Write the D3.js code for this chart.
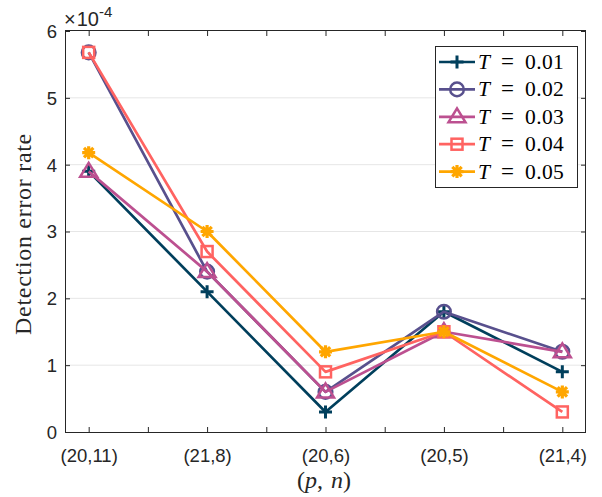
<!DOCTYPE html>
<html><head><meta charset="utf-8">
<script src="https://cdn.jsdelivr.net/npm/d3@7"></script>
<style>body{margin:0;background:#fff}svg{display:block}</style>
</head><body>
<svg id="c" width="602" height="497"></svg>
<script>
const categories = ["(20,11)", "(21,8)", "(20,6)", "(20,5)", "(21,4)"];
const seriesNames = ["0.01", "0.02", "0.03", "0.04", "0.05"];
const s001 = [3.9, 2.1, 0.3, 1.8, 0.9];
const s002 = [5.68, 2.4, 0.6, 1.8, 1.2];
const s003 = [3.9, 2.4, 0.6, 1.5, 1.2];
const s004 = [5.68, 2.7, 0.9, 1.5, 0.3];
const s005 = [4.18, 3.0, 1.2, 1.5, 0.6];
const yTicks = [0, 1, 2, 3, 4, 5, 6];
const colors = ["#003f5c", "#58508d", "#bc5090", "#ff6361", "#ffa600"];
const markers = ["plus", "circle", "triangle", "square", "asterisk"];
const seriesValues = [s001, s002, s003, s004, s005];

const svg = d3.select("#c");
const L = 65, R = 586, T = 31, B = 432;
const x = d3.scaleLinear().domain([-0.2, 4.2]).range([L, R]);
const y = d3.scaleLinear().domain([0, 6]).range([B, T]);

// grid
svg.append("g").selectAll("line").data(yTicks.slice(1, -1)).join("line")
  .attr("x1", L).attr("x2", R).attr("y1", d => y(d)).attr("y2", d => y(d))
  .attr("stroke", "#e6e6e6").attr("stroke-width", 1);

const tickFont = "'Liberation Sans', Arial, sans-serif";
const serif = "'Liberation Serif', 'Times New Roman', serif";
const xt = d3.range(0, 4.01, 0.5);
const xAxis = d3.axisBottom(x).tickValues(xt).tickSize(-5).tickPadding(17)
  .tickFormat(d => Number.isInteger(d) ? categories[d] : "");
const gx = svg.append("g").attr("transform", `translate(0,${B})`).call(xAxis);
const xTop = d3.axisTop(x).tickValues(xt).tickSize(-5).tickFormat("");
const gxt = svg.append("g").attr("transform", `translate(0,${T})`).call(xTop);
const yAxis = d3.axisLeft(y).tickValues(yTicks).tickSize(-5).tickPadding(8).tickFormat(d3.format("d"));
const gy = svg.append("g").attr("transform", `translate(${L},0)`).call(yAxis);
const yR = d3.axisRight(y).tickValues(yTicks).tickSize(-5).tickFormat("");
const gyr = svg.append("g").attr("transform", `translate(${R},0)`).call(yR);
[gx, gxt, gy, gyr].forEach(g => {
  g.select(".domain").attr("stroke", "#262626").attr("stroke-width", 1);
  g.selectAll(".tick line").attr("stroke", "#262626");
  g.selectAll("text").attr("fill", "#262626").style("font-family", tickFont).style("font-size", "18.5px");
});
gx.selectAll("text").attr("dy", "0.71em");
gy.selectAll("text").attr("dy", "0.35em");
gy.select(".domain").attr("d", `M0.5,${T}V${B}`);
gyr.select(".domain").attr("d", `M-0.5,${T}V${B}`);
gx.select(".domain").attr("d", `M${L},0.5H${R}`);
gxt.select(".domain").attr("d", `M${L},-0.5H${R}`);

// exponent
const ex = svg.append("text").attr("x", 64).attr("y", 26).attr("fill", "#262626")
  .attr("font-family", tickFont).attr("font-size", 20)
  .style("font-family", tickFont).style("font-size", "20px");
ex.append("tspan").text("\u00d7");
ex.append("tspan").attr("dx", 1).text("10");
ex.append("tspan").attr("dy", -9).attr("font-size", 15).style("font-size", "15px").text("-4");

function drawMarker(g, type, color, cx, cy) {
  const s = 6.5;
  if (type === "plus") {
    g.append("path").attr("d", `M${cx-s},${cy}H${cx+s}M${cx},${cy-s}V${cy+s}`)
      .attr("stroke", color).attr("stroke-width", 3).attr("fill", "none");
  } else if (type === "circle") {
    g.append("circle").attr("cx", cx).attr("cy", cy).attr("r", 6.8)
      .attr("stroke", color).attr("stroke-width", 2.5).attr("fill", "none");
  } else if (type === "triangle") {
    g.append("path").attr("d", `M${cx},${cy-8.5}L${cx+8.5},${cy+5.5}L${cx-8.5},${cy+5.5}Z`)
      .attr("stroke", color).attr("stroke-width", 2.5).attr("fill", "none");
  } else if (type === "square") {
    g.append("rect").attr("x", cx-5.5).attr("y", cy-5.5).attr("width", 11).attr("height", 11)
      .attr("stroke", color).attr("stroke-width", 2.5).attr("fill", "none");
  } else {
    const d = s * 0.72;
    g.append("path").attr("d", `M${cx-s},${cy}H${cx+s}M${cx},${cy-s}V${cy+s}M${cx-d},${cy-d}L${cx+d},${cy+d}M${cx-d},${cy+d}L${cx+d},${cy-d}`)
      .attr("stroke", color).attr("stroke-width", 3.2).attr("fill", "none");
  }
}

const line = d3.line().x((d, i) => x(i)).y(d => y(d));
seriesValues.forEach((vals, k) => {
  const g = svg.append("g");
  g.append("path").datum(vals).attr("d", line).attr("fill", "none")
    .attr("stroke", colors[k]).attr("stroke-width", 2.7).attr("stroke-linejoin", "round");
  vals.forEach((v, i) => drawMarker(g, markers[k], colors[k], x(i), y(v)));
});

// legend
const lg = svg.append("g");
lg.append("rect").attr("x", 435.5).attr("y", 46.5).attr("width", 142).attr("height", 141)
  .attr("fill", "#fff").attr("stroke", "#262626").attr("stroke-width", 1);
seriesNames.forEach((n, k) => {
  const ly = 62 + k * 27.4;
  lg.append("line").attr("x1", 439).attr("x2", 475).attr("y1", ly).attr("y2", ly)
    .attr("stroke", colors[k]).attr("stroke-width", 2.7);
  drawMarker(lg, markers[k], colors[k], 457, ly);
  lg.append("text").attr("x", 478).attr("y", ly + 7).attr("fill", "#000")
    .style("font-family", serif).style("font-size", "21.5px").style("font-style", "italic").text("T");
  lg.append("text").attr("x", 501).attr("y", ly + 7).attr("fill", "#000")
    .style("font-family", serif).style("font-size", "23px").text("=");
  lg.append("text").attr("x", 525).attr("y", ly + 7).attr("fill", "#000")
    .style("font-family", serif).style("font-size", "21.5px").style("letter-spacing", "0.4px").text(n);
});

// axis labels
const xl = svg.append("text").attr("x", 324).attr("y", 488).attr("text-anchor", "middle")
  .style("font-family", serif).style("font-size", "24px").attr("fill", "#262626");
xl.append("tspan").text("(");
xl.append("tspan").style("font-style", "italic").text("p");
xl.append("tspan").text(", ");
xl.append("tspan").attr("dx", 2).style("font-style", "italic").text("n");
xl.append("tspan").text(")");
svg.append("text").attr("transform", "translate(31,234) rotate(-90)").attr("text-anchor", "middle")
  .style("font-family", serif).style("font-size", "24px").style("letter-spacing", "0.7px").attr("fill", "#262626")
  .text("Detection error rate");
</script>
</body></html>
